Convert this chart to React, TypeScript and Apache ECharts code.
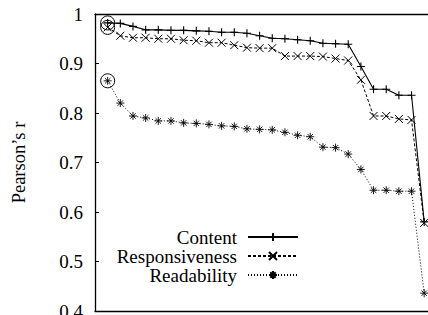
import React, { useEffect, useRef } from "react";
import * as echarts from "echarts";

const xIndex = [1, 2, 3, 4, 5, 6, 7, 8, 9, 10, 11, 12, 13, 14, 15, 16, 17, 18, 19, 20, 21, 22, 23, 24, 25, 26];
const contentR = [0.982, 0.981, 0.975, 0.968, 0.968, 0.967, 0.967, 0.966, 0.965, 0.963, 0.963, 0.961, 0.956, 0.951, 0.95, 0.948, 0.946, 0.941, 0.94, 0.939, 0.894, 0.848, 0.848, 0.836, 0.836, 0.58];
const responsivenessR = [0.973, 0.956, 0.952, 0.952, 0.95, 0.95, 0.947, 0.946, 0.942, 0.942, 0.937, 0.932, 0.931, 0.931, 0.915, 0.915, 0.915, 0.914, 0.91, 0.906, 0.867, 0.794, 0.794, 0.788, 0.786, 0.578];
const readabilityR = [0.865, 0.82, 0.794, 0.79, 0.784, 0.784, 0.78, 0.779, 0.777, 0.774, 0.773, 0.768, 0.767, 0.766, 0.761, 0.755, 0.752, 0.731, 0.73, 0.717, 0.686, 0.644, 0.644, 0.642, 0.642, 0.436];
const seriesNames = ["Content", "Responsiveness", "Readability"];
const yTicks = [0.4, 0.5, 0.6, 0.7, 0.8, 0.9, 1];

const FONT = "'Liberation Serif', 'Times New Roman', serif";
const PLUS = "path://M4,0L4,8M0,4L8,4";
const CROSS = "path://M0.5,0.5L7.5,7.5M7.5,0.5L0.5,7.5";
const STAR = "path://M4,0L4,8M0,4L8,4M1.3,1.3L6.7,6.7M6.7,1.3L1.3,6.7";

export default function App() {
  const ref = useRef<HTMLDivElement>(null);
  useEffect(() => {
    if (!ref.current) return;
    const chart = echarts.init(ref.current, null, { renderer: "svg" });
    const mk = (name: string, vals: number[], symbol: string, dash: any, width: number, bw: number) => ({
      name,
      type: "line",
      data: vals.map((v, i) => [xIndex[i], v]),
      symbol,
      symbolSize: 8,
      showSymbol: true,
      lineStyle: { color: "#000", width, type: dash },
      itemStyle: { color: "#000", borderColor: "#000", borderWidth: bw },
      emphasis: { disabled: true },
      markPoint: {
        symbol: "circle",
        symbolSize: 14,
        silent: true,
        label: { show: false },
        itemStyle: { color: "transparent", borderColor: "#000", borderWidth: 1 },
        data: [{ coord: [xIndex[0], vals[0]] }],
      },
    });
    chart.setOption({
      animation: false,
      grid: { left: 95, right: 0, top: 14, bottom: 4, containLabel: false, outerBoundsMode: "none" },
      legend: {
        orient: "vertical",
        align: "right",
        right: 129,
        top: 227.5,
        padding: 0,
        itemWidth: 50,
        itemHeight: 10,
        itemGap: 0,
        data: seriesNames,
        textStyle: { fontFamily: FONT, fontSize: 19, color: "#000", lineHeight: 18.7, padding: [0, 6, 0, 0] },
      },
      xAxis: [
        {
          type: "value",
          min: 0,
          max: 26.3,
          position: "bottom",
          axisLine: { show: true, onZero: false, lineStyle: { color: "#000", width: 1.3 } },
          axisTick: { show: false },
          axisLabel: { show: false },
          splitLine: { show: false },
        },
        {
          type: "value",
          min: 0,
          max: 26.3,
          position: "top",
          axisLine: { show: true, onZero: false, lineStyle: { color: "#000", width: 1.3 } },
          axisTick: { show: false },
          axisLabel: { show: false },
          splitLine: { show: false },
        },
      ],
      yAxis: {
        type: "value",
        min: yTicks[0],
        max: yTicks[yTicks.length - 1],
        interval: 0.1,
        name: "Pearson\u2019s r",
        nameLocation: "middle",
        nameGap: 67,
        nameTextStyle: { fontFamily: FONT, fontSize: 18.5, color: "#000" },
        axisLine: { show: true, lineStyle: { color: "#000", width: 1.3 } },
        axisTick: { show: true, inside: true, length: 4, lineStyle: { color: "#000" } },
        axisLabel: { fontFamily: FONT, fontSize: 19, color: "#000", margin: 12 },
        splitLine: { show: false },
      },
      series: [
        mk(seriesNames[0], contentR, PLUS, "solid", 1.1, 1.1),
        mk(seriesNames[1], responsivenessR, CROSS, [3, 2], 1, 1),
        mk(seriesNames[2], readabilityR, STAR, [1, 2], 1, 0.9),
      ],
    });
    return () => chart.dispose();
  }, []);
  return (
    <div
      ref={ref}
      style={{ position: "fixed", left: 0, top: 0, width: 428, height: 315, background: "#fff" }}
    />
  );
}
